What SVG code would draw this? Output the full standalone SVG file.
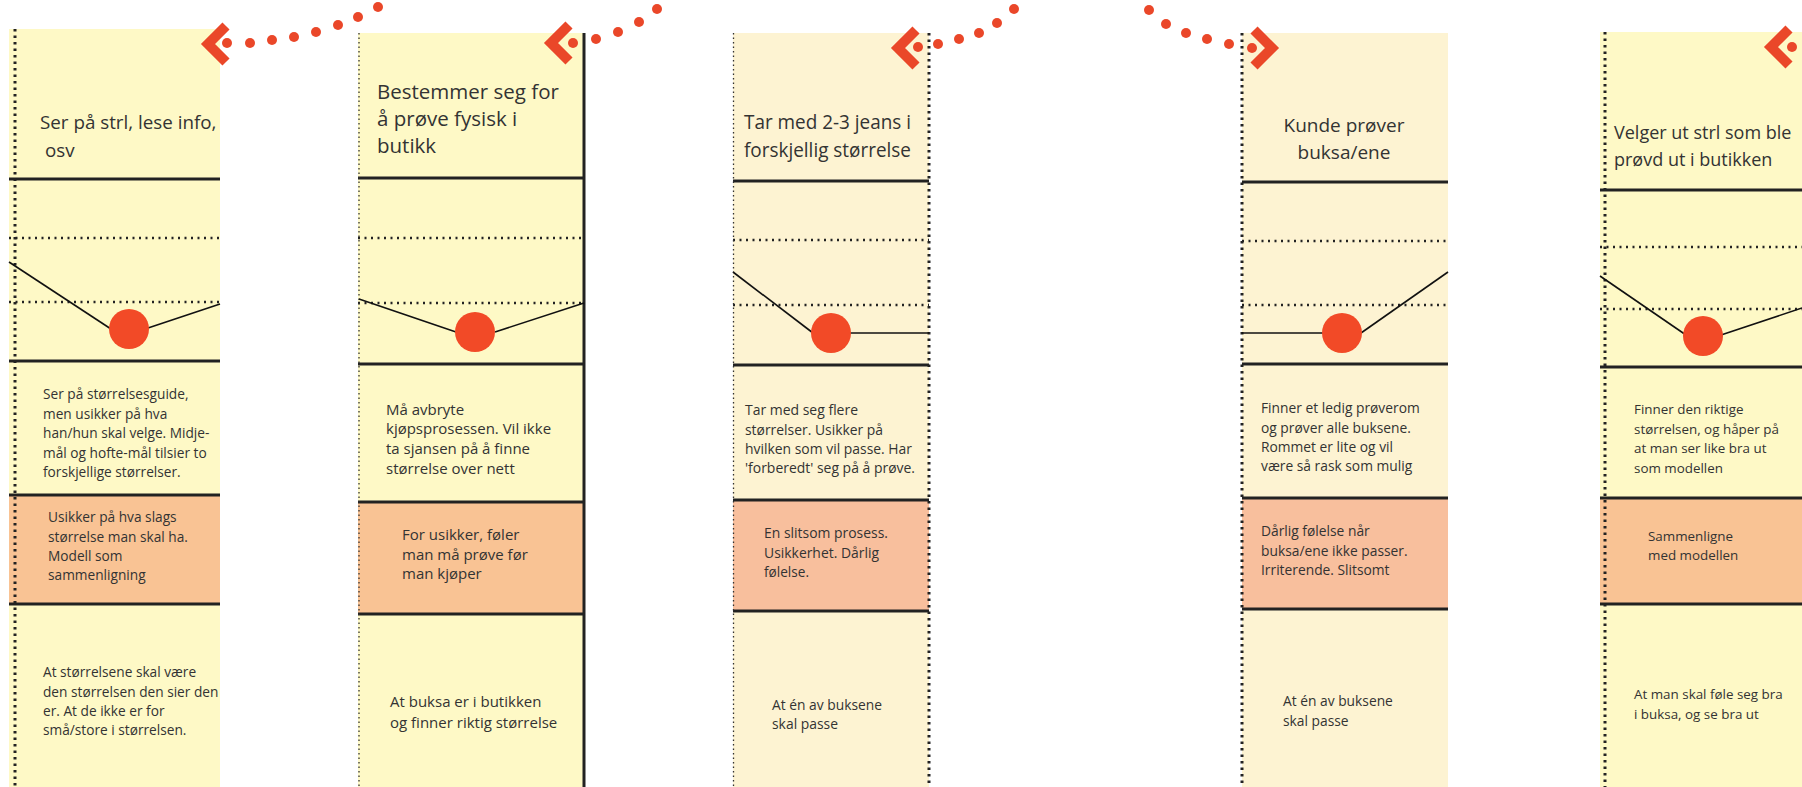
<svg xmlns="http://www.w3.org/2000/svg" width="1802" height="787" viewBox="0 0 1802 787">
  <style>
    .sa { fill: #FEF9C6; }
    .sb { fill: #FDF3D2; }
    .pa { fill: #F9C394; }
    .pb { fill: #F8BF9D; }
    .rule { stroke: #222; stroke-width: 3; }
    .hdots { stroke: #222; stroke-width: 2.5; stroke-dasharray: 2 4.5; }
    .vbold { stroke: #222; stroke-width: 3; stroke-dasharray: 2.5 4; }
    .vfine { stroke: #333; stroke-width: 1.3; stroke-dasharray: 1.5 3; }
    .journey { stroke: #111; stroke-width: 1.6; fill: none; }
    .mood { fill: #F24A27; }
    .chev { fill: none; stroke: #EA4729; stroke-width: 10; stroke-linejoin: miter; }
    .trail { fill: #EA4729; }
    text { font-family: "Open Sans", "Noto Sans", sans-serif; fill: #333; }
    .t1 { font-size: 18.8px; }
    .t2 { font-size: 20.5px; }
    .t4 { font-size: 19px; }
    .t5 { font-size: 18px; }
    .s1 { font-size: 13.7px; }
    .s2 { font-size: 15px; }
    .s4 { font-size: 13.8px; }
    .s5 { font-size: 13.4px; }
    .c3 { font-size: 15px; }
    .c3t { font-size: 20.5px; }
  </style>

  <!-- Step 1 -->
  <g id="step-1">
    <rect class="sa" x="9" y="29" width="211" height="758"/>
    <rect class="pa" x="9" y="495" width="211" height="109"/>
    <line class="rule" x1="9" y1="179" x2="220" y2="179"/>
    <line class="hdots" x1="9" y1="238" x2="220" y2="238"/>
    <line class="hdots" x1="9" y1="302" x2="220" y2="302"/>
    <line class="rule" x1="9" y1="361" x2="220" y2="361"/>
    <line class="rule" x1="9" y1="495" x2="220" y2="495"/>
    <line class="rule" x1="9" y1="604" x2="220" y2="604"/>
    <line class="vbold" x1="15" y1="29" x2="15" y2="787"/>
    <text class="t1" x="40" y="129">Ser på strl, lese info,</text>
    <text class="t1" x="40" y="157" xml:space="preserve"> osv</text>
    <text class="s1" x="43" y="399">Ser på størrelsesguide,</text>
    <text class="s1" x="43" y="419">men usikker på hva</text>
    <text class="s1" x="43" y="438">han/hun skal velge. Midje-</text>
    <text class="s1" x="43" y="458">mål og hofte-mål tilsier to</text>
    <text class="s1" x="43" y="477">forskjellige størrelser.</text>
    <text class="s1" x="48" y="522">Usikker på hva slags</text>
    <text class="s1" x="48" y="542">størrelse man skal ha.</text>
    <text class="s1" x="48" y="561">Modell som</text>
    <text class="s1" x="48" y="580">sammenligning</text>
    <text class="s1" x="43" y="677">At størrelsene skal være</text>
    <text class="s1" x="43" y="697">den størrelsen den sier den</text>
    <text class="s1" x="43" y="716">er. At de ikke er for</text>
    <text class="s1" x="43" y="735">små/store i størrelsen.</text>
  </g>

  <!-- Step 2 -->
  <g id="step-2">
    <rect class="sa" x="358" y="33" width="226" height="754"/>
    <rect class="pa" x="358" y="502" width="226" height="112"/>
    <line class="rule" x1="358" y1="178" x2="584" y2="178"/>
    <line class="hdots" x1="358" y1="238" x2="584" y2="238"/>
    <line class="hdots" x1="358" y1="303" x2="584" y2="303"/>
    <line class="rule" x1="358" y1="364" x2="584" y2="364"/>
    <line class="rule" x1="358" y1="502" x2="584" y2="502"/>
    <line class="rule" x1="358" y1="614" x2="584" y2="614"/>
    <line class="vfine" x1="359" y1="33" x2="359" y2="787"/>
    <line class="rule" x1="584" y1="33" x2="584" y2="787"/>
    <text class="t2" x="377" y="99">Bestemmer seg for</text>
    <text class="t2" x="377" y="126">å prøve fysisk i</text>
    <text class="t2" x="377" y="153">butikk</text>
    <text class="s2" x="386" y="415">Må avbryte</text>
    <text class="s2" x="386" y="434">kjøpsprosessen. Vil ikke</text>
    <text class="s2" x="386" y="454">ta sjansen på å finne</text>
    <text class="s2" x="386" y="474">størrelse over nett</text>
    <text class="s2" x="402" y="540">For usikker, føler</text>
    <text class="s2" x="402" y="560">man må prøve før</text>
    <text class="s2" x="402" y="579">man kjøper</text>
    <text class="s2" x="390" y="707">At buksa er i butikken</text>
    <text class="s2" x="390" y="728">og finner riktig størrelse</text>
  </g>

  <!-- Step 3 -->
  <g id="step-3">
    <rect class="sb" x="733" y="33" width="196" height="754"/>
    <rect class="pb" x="733" y="500" width="196" height="111"/>
    <line class="rule" x1="733" y1="181" x2="929" y2="181"/>
    <line class="hdots" x1="733" y1="240" x2="929" y2="240"/>
    <line class="hdots" x1="733" y1="305" x2="929" y2="305"/>
    <line class="rule" x1="733" y1="365" x2="929" y2="365"/>
    <line class="rule" x1="733" y1="500" x2="929" y2="500"/>
    <line class="rule" x1="733" y1="611" x2="929" y2="611"/>
    <line class="vfine" x1="733.5" y1="33" x2="733.5" y2="787"/>
    <line class="vbold" x1="929" y1="33" x2="929" y2="787"/>
    <text class="c3t" x="744" y="129" textLength="167" lengthAdjust="spacingAndGlyphs">Tar med 2-3 jeans i</text>
    <text class="c3t" x="744" y="157" textLength="167" lengthAdjust="spacingAndGlyphs">forskjellig størrelse</text>
    <text class="c3" x="745" y="415" textLength="113" lengthAdjust="spacingAndGlyphs">Tar med seg flere</text>
    <text class="c3" x="745" y="435" textLength="138" lengthAdjust="spacingAndGlyphs">størrelser. Usikker på</text>
    <text class="c3" x="745" y="454" textLength="167" lengthAdjust="spacingAndGlyphs">hvilken som vil passe. Har</text>
    <text class="c3" x="745" y="473" textLength="170" lengthAdjust="spacingAndGlyphs">'forberedt' seg på å prøve.</text>
    <text class="c3" x="764" y="538" textLength="124" lengthAdjust="spacingAndGlyphs">En slitsom prosess.</text>
    <text class="c3" x="764" y="558" textLength="115" lengthAdjust="spacingAndGlyphs">Usikkerhet. Dårlig</text>
    <text class="c3" x="764" y="577" textLength="45" lengthAdjust="spacingAndGlyphs">følelse.</text>
    <text class="c3" x="772" y="710" textLength="110" lengthAdjust="spacingAndGlyphs">At én av buksene</text>
    <text class="c3" x="772" y="729" textLength="66" lengthAdjust="spacingAndGlyphs">skal passe</text>
  </g>

  <!-- Step 4 -->
  <g id="step-4">
    <rect class="sb" x="1242" y="33" width="206" height="754"/>
    <rect class="pb" x="1242" y="498" width="206" height="111"/>
    <line class="rule" x1="1242" y1="182" x2="1448" y2="182"/>
    <line class="hdots" x1="1242" y1="241" x2="1448" y2="241"/>
    <line class="hdots" x1="1242" y1="305" x2="1448" y2="305"/>
    <line class="rule" x1="1242" y1="364" x2="1448" y2="364"/>
    <line class="rule" x1="1242" y1="498" x2="1448" y2="498"/>
    <line class="rule" x1="1242" y1="609" x2="1448" y2="609"/>
    <line class="vbold" x1="1242" y1="33" x2="1242" y2="787"/>
    <text class="t4" x="1344" y="132" text-anchor="middle">Kunde prøver</text>
    <text class="t4" x="1344" y="159" text-anchor="middle">buksa/ene</text>
    <text class="s4" x="1261" y="413">Finner et ledig prøverom</text>
    <text class="s4" x="1261" y="433">og prøver alle buksene.</text>
    <text class="s4" x="1261" y="452">Rommet er lite og vil</text>
    <text class="s4" x="1261" y="471">være så rask som mulig</text>
    <text class="s4" x="1261" y="536">Dårlig følelse når</text>
    <text class="s4" x="1261" y="556">buksa/ene ikke passer.</text>
    <text class="s4" x="1261" y="575">Irriterende. Slitsomt</text>
    <text class="s4" x="1283" y="706">At én av buksene</text>
    <text class="s4" x="1283" y="726">skal passe</text>
  </g>

  <!-- Step 5 -->
  <g id="step-5">
    <rect class="sa" x="1600" y="32" width="202" height="755"/>
    <rect class="pa" x="1600" y="498" width="202" height="106"/>
    <line class="rule" x1="1600" y1="190" x2="1802" y2="190"/>
    <line class="hdots" x1="1600" y1="247" x2="1802" y2="247"/>
    <line class="hdots" x1="1600" y1="309" x2="1802" y2="309"/>
    <line class="rule" x1="1600" y1="367" x2="1802" y2="367"/>
    <line class="rule" x1="1600" y1="498" x2="1802" y2="498"/>
    <line class="rule" x1="1600" y1="604" x2="1802" y2="604"/>
    <line class="vbold" x1="1605" y1="32" x2="1605" y2="787"/>
    <text class="t5" x="1614" y="139">Velger ut strl som ble</text>
    <text class="t5" x="1614" y="166">prøvd ut i butikken</text>
    <text class="s5" x="1634" y="414">Finner den riktige</text>
    <text class="s5" x="1634" y="434">størrelsen, og håper på</text>
    <text class="s5" x="1634" y="453">at man ser like bra ut</text>
    <text class="s5" x="1634" y="473">som modellen</text>
    <text class="s5" x="1648" y="541">Sammenligne</text>
    <text class="s5" x="1648" y="560">med modellen</text>
    <text class="s5" x="1634" y="699">At man skal føle seg bra</text>
    <text class="s5" x="1634" y="719">i buksa, og se bra ut</text>
  </g>

  <!-- Emotion curve and step-to-step trails -->
  <g id="connectors">
    <polyline class="journey" points="9,262 111,329"/>
    <polyline class="journey" points="148,328 220,304"/>
    <polyline class="journey" points="359,299 456,332"/>
    <polyline class="journey" points="495,332 584,303"/>
    <polyline class="journey" points="733,272 813,333"/>
    <polyline class="journey" points="850,333 929,333"/>
    <polyline class="journey" points="1242,333 1323,333"/>
    <polyline class="journey" points="1361,333 1448,272"/>
    <polyline class="journey" points="1600,276 1686,335"/>
    <polyline class="journey" points="1721,335 1802,308"/>

    <circle class="mood" cx="129" cy="329" r="20"/>
    <circle class="mood" cx="475" cy="332" r="20"/>
    <circle class="mood" cx="831" cy="333" r="20"/>
    <circle class="mood" cx="1342" cy="333" r="20"/>
    <circle class="mood" cx="1703" cy="336" r="20"/>

    <polyline class="chev" points="226,26 208,44 226,62"/>
    <polyline class="chev" points="569,25 551,43 569,61"/>
    <polyline class="chev" points="916,30 898,48 916,66"/>
    <polyline class="chev" points="1254,30 1272,48 1254,66"/>
    <polyline class="chev" points="1789,29 1771,47 1789,65"/>

    <g class="trail">
      <circle cx="227" cy="43" r="5"/>
      <circle cx="250" cy="43" r="5"/>
      <circle cx="272" cy="40" r="5"/>
      <circle cx="294" cy="37" r="5"/>
      <circle cx="316" cy="32" r="5"/>
      <circle cx="338" cy="25" r="5"/>
      <circle cx="358" cy="17" r="5"/>
      <circle cx="378" cy="7" r="5"/>

      <circle cx="573" cy="43" r="5"/>
      <circle cx="596" cy="39" r="5"/>
      <circle cx="618" cy="32" r="5"/>
      <circle cx="639" cy="22" r="5"/>
      <circle cx="657" cy="9" r="5"/>

      <circle cx="918" cy="47" r="5"/>
      <circle cx="938" cy="44" r="5"/>
      <circle cx="959" cy="39" r="5"/>
      <circle cx="979" cy="33" r="5"/>
      <circle cx="997" cy="23" r="5"/>
      <circle cx="1014" cy="9" r="5"/>

      <circle cx="1149" cy="10" r="5"/>
      <circle cx="1166" cy="24" r="5"/>
      <circle cx="1186" cy="33" r="5"/>
      <circle cx="1207" cy="39" r="5"/>
      <circle cx="1229" cy="44" r="5"/>
      <circle cx="1252" cy="48" r="5"/>

      <circle cx="1792" cy="47" r="5"/>
    </g>
  </g>
</svg>
